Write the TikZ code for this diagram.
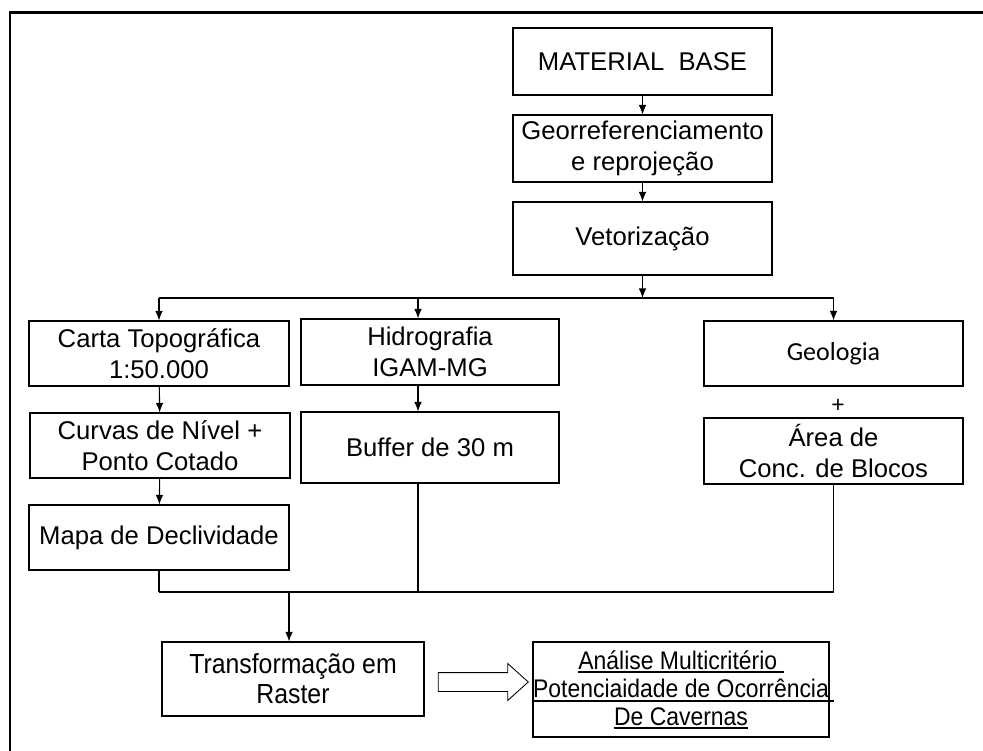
\documentclass[tikz,border=0pt]{standalone}
\usepackage{fontspec}
\setmainfont{Liberation Sans}
\newfontfamily\calibrifont{Carlito}
\newfontfamily\narrowfont[FakeStretch=0.9]{Liberation Sans}
\newcommand{\ulbox}[1]{\setbox0\hbox{#1}\rlap{\rule[-2pt]{\wd0}{0.9pt}}\box0}
\usetikzlibrary{
    arrows.meta,
    shapes.arrows,
    positioning
}

\begin{document}
\begin{tikzpicture}[
                        box/.style={draw, line width=0.6pt, minimum width=5.2cm, minimum height=1.3cm, inner sep=0pt, align=center, font=\fontsize{14.6}{17.5}\selectfont},
                        flow/.style={line width=0.6pt, -{Latex[length=1.9mm, width=1.5mm]}},
                        wire/.style={line width=0.6pt},
                        hollow/.style={draw, line width=0.5pt, single arrow, single arrow head extend=0.18cm, single arrow tip angle=84, minimum height=1.8cm, minimum width=0.72cm, inner sep=0.18cm}
                    ]
                        \useasboundingbox (0, 0) rectangle (19.66, -15.02);
                        \draw[line width=1.7pt] (0.2, -15.02) -- (0.2, -0.26) -- (19.66, -0.26);

                        \node[box, minimum width=5.18cm, minimum height=1.34cm] (nb) at (12.85, -1.23) {MATERIAL~~BASE};
                        \node[box, minimum width=5.18cm, minimum height=1.34cm] (ng) at (12.85, -2.97) {Georreferenciamento\\e reprojeção};
                        \node[box, minimum width=5.18cm, minimum height=1.46cm] (nv) at (12.85, -4.77) {Vetorização};

                        \node[box] (nc) at (3.18, -7.07) {Carta Topográfica\\1:50.000};
                        \node[box] (nn) at (3.2, -8.91) {Curvas de Nível +\\Ponto Cotado};
                        \node[box] (nm) at (3.18, -10.75) {Mapa de Declividade};

                        \node[box, minimum width=5.16cm, minimum height=1.32cm] (nh) at (8.6, -7.04) {Hidrografia\\IGAM-MG};
                        \node[box, minimum width=5.16cm, minimum height=1.42cm] (nbf) at (8.6, -8.95) {Buffer de 30 m};

                        \node[box, minimum width=5.18cm, font=\calibrifont\fontsize{14.8}{17.5}\selectfont] (ngeo) at (16.67, -7.07) {Geologia};
                        \node[font=\fontsize{13}{15}\selectfont, inner sep=0pt] (np) at (16.76, -8.12) {+};
                        \node[box, minimum width=5.18cm, minimum height=1.32cm] (na) at (16.67, -9.02) {Área de\\ Conc. de Blocos};

                        \node[box, minimum width=5.24cm, minimum height=1.48cm, font=\narrowfont\fontsize{15.7}{17}\selectfont] (nt) at (5.86, -13.58) {Transformação em\\Raster};
                        \node[hollow] (nr) at (9.56, -13.64) {};
                        \node[box, minimum width=5.92cm, minimum height=1.9cm, font=\narrowfont\fontsize{14.5}{16}\selectfont] (nan) at (13.62, -13.79) {\ulbox{Análise Multicritério\ }\\Potenciaidade de Ocorrência\\\ulbox{De Cavernas}};
                        \draw[line width=1.1pt] (10.66, -14.02) -- (16.68, -14.02);

                        \coordinate (s0) at (12.85, -5.96);
                        \coordinate (s1) at (3.18, -5.96);
                        \coordinate (s2) at (8.36, -5.96);
                        \coordinate (s3) at (16.67, -5.96);
                        \coordinate (m1) at (3.18, -11.84);
                        \coordinate (m2) at (5.78, -11.84);
                        \coordinate (m3) at (8.36, -11.84);
                        \coordinate (m4) at (16.67, -11.84);

                        \draw
                        (nb) edge[flow] (ng)
                        (ng) edge[flow] (nv)
                        (nv) edge[flow] (s0)
                        (s1) edge[wire] (s3)
                        (s1) edge[flow] (nc)
                        (s2) edge[flow] (s2 |- nh.north)
                        (s3) edge[flow] (ngeo)
                        (nc) edge[flow] (nn)
                        (nn) edge[flow] (nm)
                        (nh.south -| s2) edge[flow] (nbf.north -| s2)
                        (nm) edge[wire] (m1)
                        (nbf.south -| m3) edge[wire] (m3)
                        (na) edge[wire] (m4)
                        (m1) edge[wire] (m4)
                        (m2) edge[flow] (m2 |- nt.north);
                    \end{tikzpicture}
\end{document}
